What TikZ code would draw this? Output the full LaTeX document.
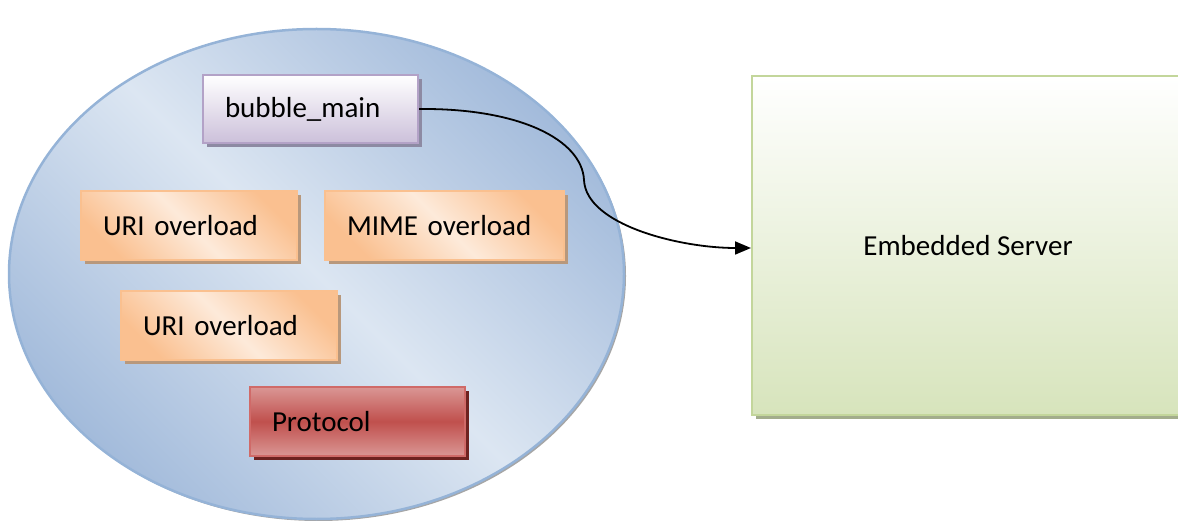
\documentclass[tikz,border=0pt]{standalone}
\usepackage{fontspec}
\setmainfont{Carlito}
\usetikzlibrary{shadows,arrows.meta,shapes.geometric}
\definecolor{ellDark}{HTML}{A3BBDB}
\definecolor{ellLight}{HTML}{DCE6F2}
\definecolor{ellBorder}{HTML}{95B3D7}
\definecolor{purTop}{HTML}{FFFFFF}
\definecolor{purBot}{HTML}{CCC0DA}
\definecolor{purBorder}{HTML}{B3A2C7}
\definecolor{purShadow}{HTML}{8D8AA3}
\definecolor{orDark}{HTML}{FAC090}
\definecolor{orLight}{HTML}{FDEADA}
\definecolor{orBorder}{HTML}{FAC08F}
\definecolor{orShadow}{HTML}{B8987C}
\definecolor{redLight}{HTML}{DA9694}
\definecolor{redMid}{HTML}{C0504D}
\definecolor{redBorder}{HTML}{D06A68}
\definecolor{redShadow}{HTML}{6E2220}
\definecolor{grBot}{HTML}{D7E4BC}
\definecolor{grBorder}{HTML}{C3D69B}
\definecolor{grShadow}{HTML}{A3AD8C}
\tikzset{
  lbl/.style={font=\fontsize{29}{34}\selectfont, text=black},
  boxbase/.style={rectangle, lbl, line width=2pt, inner xsep=22pt, inner ysep=0pt, align=left},
  purbox/.style={boxbase, draw=purBorder, top color=purTop, bottom color=purBot,
    general shadow={fill=purShadow, shadow xshift=4pt, shadow yshift=-4pt}},
  orbox/.style={boxbase, draw=orBorder, top color=orDark, bottom color=orDark, middle color=orLight, shading angle=-45,
    general shadow={fill=orShadow, shadow xshift=4pt, shadow yshift=-4pt}},
  redbox/.style={boxbase, draw=redBorder, top color=redLight, bottom color=redLight, middle color=redMid,
    general shadow={fill=redShadow, shadow xshift=4pt, shadow yshift=-4pt}},
  grbox/.style={rectangle, lbl, line width=2pt, draw=grBorder, top color=white, bottom color=grBot,
    general shadow={fill=grShadow, shadow xshift=4pt, shadow yshift=-4pt}},
  bubblestyle/.style={ellipse, line width=2.5pt, draw=ellBorder, top color=ellDark, bottom color=ellDark, middle color=ellLight, shading angle=-45,
    general shadow={fill=black!35, shadow xshift=2pt, shadow yshift=-2pt}},
  conn/.style={line width=1.8pt, -{Triangle[length=16pt,width=13pt]}}
}
\begin{document}
\begin{tikzpicture}[x=1pt,y=-1pt]
\useasboundingbox (0,0) rectangle (1178,521);
\node[bubblestyle, minimum width=615pt, minimum height=490pt] (bubble) at (316.5,274) {};
\node[purbox, text width=171pt, minimum height=68pt] (main) at (310.5,109) {bubble\_main};
\node[orbox, text width=172pt, minimum height=69pt] (uri1) at (189,225.5) {URI overload};
\node[orbox, text width=195pt, minimum height=69pt] (mime) at (444.5,225.5) {MIME overload};
\node[orbox, text width=172pt, minimum height=69pt] (uri2) at (229,325.5) {URI overload};
\node[redbox, text width=171pt, minimum height=69pt] (proto) at (357.5,421.5) {Protocol};
\node[grbox, minimum width=432pt, minimum height=338pt] (server) at (968,245.5) {Embedded Server};
\coordinate (kink) at (584,180);
\draw[conn] (main.east) .. controls (520,108) and (582,140) .. (kink)
  .. controls (586,225) and (680,248) .. (server.west |- 0,248);
\end{tikzpicture}
\end{document}
